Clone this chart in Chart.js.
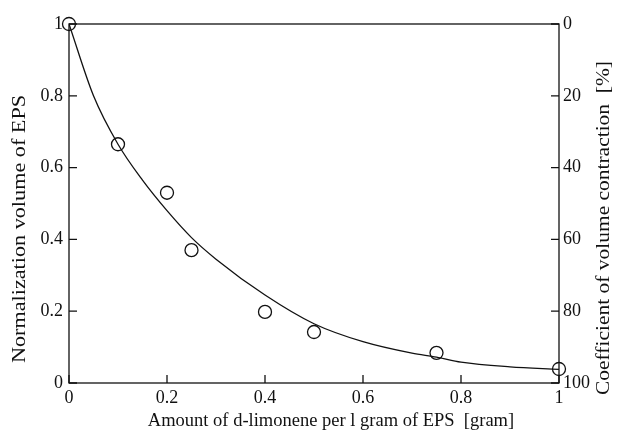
<!DOCTYPE html>
<html>
<head>
<meta charset="utf-8">
<script src="https://cdn.jsdelivr.net/npm/chart.js@4.4.1/dist/chart.umd.min.js"></script>
<style>
  body { margin: 0; background: #fff; }
  #wrap { width: 617px; height: 438px; }
</style>
</head>
<body>
<div id="wrap"><canvas id="epsChart" width="617" height="438"></canvas></div>
<script>
// measured points (circles)
const amount = [0, 0.1, 0.2, 0.25, 0.4, 0.5, 0.75, 1.0];
const volume = [1.0, 0.665, 0.53, 0.37, 0.198, 0.142, 0.084, 0.039];

// fitted curve
const curveX = [0, 0.05, 0.1, 0.15, 0.2, 0.25, 0.3, 0.4, 0.5, 0.6, 0.7, 0.75, 0.8, 0.9, 1.0];
const curveY = [1.0, 0.80, 0.665, 0.565, 0.48, 0.405, 0.345, 0.245, 0.165, 0.115, 0.083, 0.072, 0.058, 0.045, 0.038];

const xTitle = "Amount of d-limonene per l gram of EPS  [gram]";
const yTitle = "Normalization volume of EPS";
const y1Title = "Coefficient of volume contraction  [%]";

const FONT = "Liberation Serif, Times New Roman, serif";

const toXY = (xs, ys) => xs.map((x, i) => ({ x: x, y: ys[i] }));

// inward tick marks, frame and axis titles
const frameTicks = {
    id: "frameTicks",
    afterDraw(chart) {
        const ctx = chart.ctx;
        const a = chart.chartArea;
        const len = 8;
        ctx.save();
        ctx.strokeStyle = "#111";
        ctx.lineWidth = 1.3;
        ctx.strokeRect(a.left, a.top, a.right - a.left, a.bottom - a.top);

        ctx.beginPath();
        const sx = chart.scales.x;
        sx.ticks.forEach(t => {
            const px = sx.getPixelForValue(t.value);
            ctx.moveTo(px, a.bottom);
            ctx.lineTo(px, a.bottom - len);
        });
        const sy = chart.scales.y;
        sy.ticks.forEach(t => {
            const py = sy.getPixelForValue(t.value);
            ctx.moveTo(a.left, py);
            ctx.lineTo(a.left + len, py);
        });
        const sy1 = chart.scales.y1;
        sy1.ticks.forEach(t => {
            const py = sy1.getPixelForValue(t.value);
            ctx.moveTo(a.right, py);
            ctx.lineTo(a.right - len, py);
        });
        ctx.stroke();

        ctx.fillStyle = "#111";
        ctx.font = "18.5px " + FONT;
        ctx.textAlign = "center";
        ctx.textBaseline = "middle";
        ctx.fillText(xTitle, 331, 421);

        // the scanned titles are stretched along their length
        ctx.save();
        ctx.translate(20, 229);
        ctx.rotate(-Math.PI / 2);
        ctx.scale(1.2, 1);
        ctx.fillText(yTitle, 0, 0);
        ctx.restore();

        ctx.save();
        ctx.translate(604, 228);
        ctx.rotate(-Math.PI / 2);
        ctx.scale(1.16, 1);
        ctx.fillText(y1Title, 0, 0);
        ctx.restore();

        ctx.restore();
    }
};

const ctx = document.getElementById("epsChart").getContext("2d");
const epsChart = new Chart(ctx, {
    type: "scatter",
    data: {
        datasets: [
            {
                label: "measured",
                data: toXY(amount, volume),
                showLine: false,
                clip: false,
                pointRadius: 6.5,
                pointHoverRadius: 6.5,
                pointBorderWidth: 1.3,
                pointBorderColor: "#111",
                pointBackgroundColor: "rgba(0,0,0,0)",
                yAxisID: "y"
            },
            {
                label: "curve",
                data: toXY(curveX, curveY),
                showLine: true,
                pointRadius: 0,
                borderWidth: 1.3,
                borderColor: "#111",
                cubicInterpolationMode: "monotone",
                yAxisID: "y"
            }
        ]
    },
    options: {
        responsive: false,
        animation: false,
        layout: { padding: { top: 24, left: 0, right: 0, bottom: 0 } },
        plugins: {
            legend: { display: false },
            tooltip: { enabled: false }
        },
        scales: {
            x: {
                type: "linear",
                min: 0,
                max: 1,
                grid: { display: false, drawTicks: false },
                border: { display: false },
                ticks: {
                    stepSize: 0.2,
                    padding: 4,
                    color: "#111",
                    font: { family: FONT, size: 18 },
                    callback: v => (Math.round(v * 10) / 10).toString()
                },
                afterFit: s => { s.height = 55; }
            },
            y: {
                position: "left",
                min: 0,
                max: 1,
                grid: { display: false, drawTicks: false },
                border: { display: false },
                ticks: {
                    stepSize: 0.2,
                    padding: 6,
                    color: "#111",
                    font: { family: FONT, size: 18 },
                    callback: v => (Math.round(v * 10) / 10).toString()
                },
                afterFit: s => { s.width = 69; }
            },
            y1: {
                position: "right",
                min: 0,
                max: 100,
                reverse: true,
                grid: { display: false, drawTicks: false },
                border: { display: false },
                ticks: {
                    stepSize: 20,
                    padding: 4,
                    color: "#111",
                    font: { family: FONT, size: 18 }
                },
                afterFit: s => { s.width = 58; }
            }
        }
    },
    plugins: [frameTicks]
});
</script>
</body>
</html>
